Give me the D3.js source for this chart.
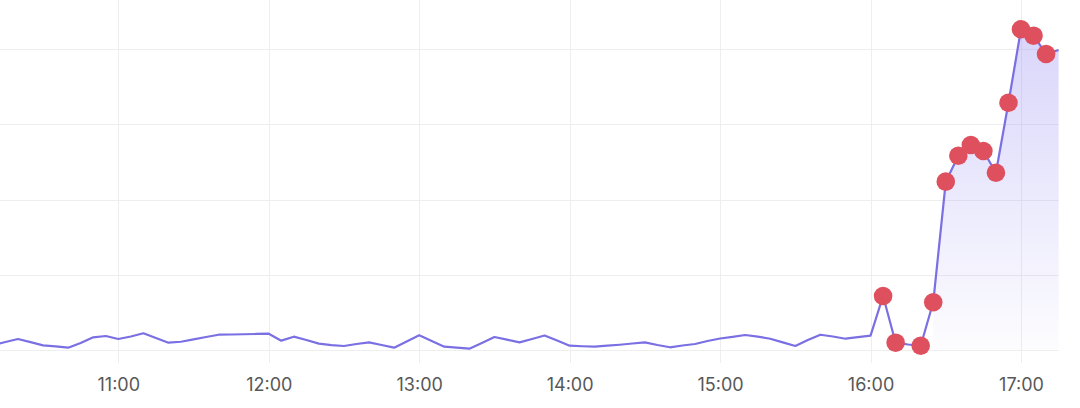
<!DOCTYPE html>
<html>
<head>
<meta charset="utf-8">
<script src="https://cdn.jsdelivr.net/npm/d3@7"></script>
<style>
  html, body { margin: 0; padding: 0; background: #fff; }
  svg { display: block; }
  .tick-label { font-family: Inter, "Noto Sans", sans-serif; font-size: 18px; fill: #585858; }
</style>
</head>
<body>
<svg id="canvas" width="1080" height="408"></svg>
<script>
// ------------------------------------------------------------------ //
// Data (5 minute samples)

var times = [
  '10:10','10:15','10:20','10:25','10:30','10:35','10:40','10:45','10:50','10:55',
  '11:00','11:05','11:10','11:15','11:20','11:25','11:30','11:35','11:40','11:45','11:50','11:55',
  '12:00','12:05','12:10','12:15','12:20','12:25','12:30','12:35','12:40','12:45','12:50','12:55',
  '13:00','13:05','13:10','13:15','13:20','13:25','13:30','13:35','13:40','13:45','13:50','13:55',
  '14:00','14:05','14:10','14:15','14:20','14:25','14:30','14:35','14:40','14:45','14:50','14:55',
  '15:00','15:05','15:10','15:15','15:20','15:25','15:30','15:35','15:40','15:45','15:50','15:55',
  '16:00','16:05','16:10','16:15','16:20','16:25','16:30','16:35','16:40','16:45','16:50','16:55',
  '17:00','17:05','17:10','17:15'
];

var values = [
  6.6, 10.6, 14.6, 10.4, 6.2, 4.7, 3.1, 9.3, 16.9, 18.6,
  14.6, 17.9, 22.2, 15.9, 9.7, 11.0, 14.2, 17.3, 20.3, 20.6, 20.9, 21.3,
  21.7, 12.4, 17.7, 13.3, 8.4, 6.6, 5.3, 8.0, 10.2, 6.6, 3.1, 11.3,
  19.5, 12.0, 4.4, 3.1, 1.7, 9.3, 17.3, 13.7, 10.2, 14.6, 19.3, 12.6,
  5.7, 5.0, 4.4, 5.7, 7.0, 8.6, 10.2, 6.6, 3.6, 6.0, 8.0, 12.0,
  15.3, 17.5, 19.9, 17.7, 15.0, 10.2, 5.3, 13.3, 20.3, 17.9, 15.0, 17.0,
  19.0, 71.8, 9.7, 7.3, 5.7, 63.4, 223.7, 258.2, 272.4, 264.5, 235.6, 328.6,
  426.2, 417.7, 393.4, 398.7
];

// points flagged as anomalies (red markers)
var anomalies = ['16:05','16:10','16:20','16:25','16:30','16:35','16:40','16:45','16:50','16:55','17:00','17:05','17:10'];

// shaded region starts here
var shadeFrom = '16:25';

var yTicks = [0, 100, 200, 300, 400];

// ------------------------------------------------------------------ //
// Setup

var canvas_width = 1080, canvas_height = 408;
var parseTime = d3.timeParse('%H:%M');

var data = times.map(function(t, i){
  return { t: parseTime(t), v: values[i], anomaly: anomalies.indexOf(t) >= 0, label: t };
});

var xScale = d3.scaleTime().domain([parseTime('11:00'), parseTime('17:00')]).range([118.3, 1021]);
var yScale = d3.scaleLinear().domain([0, 400]).range([350, 49]);

var plotRight = xScale(data[data.length - 1].t);

var svg = d3.select('#canvas');

var defs = svg.append('defs');
defs.append('clipPath').attr('id', 'plot_clip')
  .append('rect').attr('x', 0).attr('y', 0).attr('width', plotRight + 1).attr('height', canvas_height);

var grad = defs.append('linearGradient').attr('id', 'area_grad')
  .attr('gradientUnits', 'userSpaceOnUse')
  .attr('x1', 0).attr('x2', 0).attr('y1', yScale(430)).attr('y2', yScale(0));
grad.append('stop').attr('offset', '0%').attr('stop-color', '#8d84f0').attr('stop-opacity', 0.34);
grad.append('stop').attr('offset', '100%').attr('stop-color', '#8d84f0').attr('stop-opacity', 0.02);

// ------------------------------------------------------------------ //
// Grid

var grid = svg.append('g');
grid.selectAll('.hgrid').data(yTicks).enter().append('line')
  .attr('class', 'hgrid')
  .attr('x1', 0).attr('x2', plotRight)
  .attr('y1', function(d){ return Math.round(yScale(d)) + 0.5; })
  .attr('y2', function(d){ return Math.round(yScale(d)) + 0.5; })
  .attr('stroke', '#eeeeee').attr('stroke-width', 1);

var hourTicks = xScale.ticks(d3.timeHour.every(1));
grid.selectAll('.vgrid').data(hourTicks).enter().append('line')
  .attr('class', 'vgrid')
  .attr('x1', function(d){ return Math.round(xScale(d)) + 0.5; })
  .attr('x2', function(d){ return Math.round(xScale(d)) + 0.5; })
  .attr('y1', 0).attr('y2', 363)
  .attr('stroke', '#eeeeee').attr('stroke-width', 1);

// x axis labels
var xAxis = svg.append('g').attr('transform', 'translate(0,' + 350 + ')')
  .call(d3.axisBottom(xScale).tickValues(hourTicks).tickFormat(d3.timeFormat('%H:%M')).tickSize(0));
xAxis.select('.domain').remove();
xAxis.selectAll('text').attr('class', 'tick-label').attr('dy', 0).attr('y', 41);

// ------------------------------------------------------------------ //
// Series

var plot = svg.append('g').attr('clip-path', 'url(#plot_clip)');

var shadeData = data.filter(function(d){ return d.t >= parseTime(shadeFrom); });
var areaGen = d3.area().x(function(d){ return xScale(d.t); }).y0(yScale(0)).y1(function(d){ return yScale(d.v); });
plot.append('path').datum(shadeData).attr('d', areaGen).attr('fill', 'url(#area_grad)');

var lineGen = d3.line().x(function(d){ return xScale(d.t); }).y(function(d){ return yScale(d.v); });
plot.append('path').datum(data).attr('d', lineGen)
  .attr('fill', 'none').attr('stroke', '#7a6fe3').attr('stroke-width', 2.2).attr('stroke-linejoin', 'round');

plot.selectAll('.anomaly').data(data.filter(function(d){ return d.anomaly; })).enter().append('circle')
  .attr('class', 'anomaly')
  .attr('cx', function(d){ return xScale(d.t); })
  .attr('cy', function(d){ return yScale(d.v); })
  .attr('r', 9.3)
  .attr('fill', '#df505f');
</script>
</body>
</html>
